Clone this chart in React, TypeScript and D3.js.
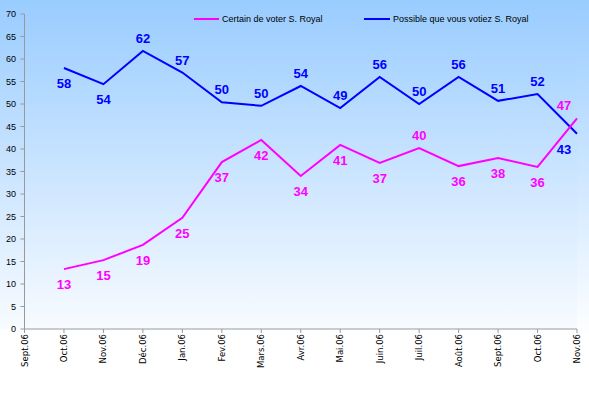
import React from 'react';
import * as d3 from 'd3';

const months = ['Sept.06', 'Oct.06', 'Nov.06', 'Déc.06', 'Jan.06', 'Fev.06', 'Mars.06', 'Avr.06', 'Mai.06', 'Juin.06', 'Juil.06', 'Août.06', 'Sept.06', 'Oct.06', 'Nov.06'];
// first month has no value
const certain = [null, 13.3, 15.3, 18.7, 24.7, 37.1, 42, 34, 40.9, 36.9, 40.2, 36.2, 38, 36, 46.8];
const possible = [null, 58, 54.4, 61.8, 57, 50.4, 49.6, 54, 49.1, 56, 50, 56, 50.7, 52.2, 43.4];
const yTicks = [0, 5, 10, 15, 20, 25, 30, 35, 40, 45, 50, 55, 60, 65, 70];

const W = 589;
const H = 397;
const margin = { top: 14, right: 12, bottom: 68, left: 24.5 };

const App = () => {
  const x = d3.scaleLinear()
    .domain([0, months.length - 1])
    .range([margin.left, W - margin.right]);
  const y = d3.scaleLinear()
    .domain([0, 70])
    .range([H - margin.bottom, margin.top]);

  const line = d3.line<number | null>()
    .defined(d => d != null)
    .x((d, i) => x(i))
    .y(d => y(d as number));

  // label placement: which points get their label under the line
  const blueBelow = new Set([1, 2, 14]);
  const pinkAbove = new Set([10, 14]);

  const labelPos = (i: number, v: number, below: boolean) => {
    const dx = i === months.length - 1 ? -13 : 0;
    const dy = below ? 20 : -8;
    return { x: x(i) + dx, y: y(v) + dy };
  };

  const font = 'Liberation Sans, Arial, sans-serif';
  const y0 = y(0);

  return (
    <svg width={W} height={H} style={{ position: 'absolute', left: 0, top: 0 }}>
      <defs>
        <linearGradient id="bg" x1="0" y1="0" x2="0" y2="1">
          <stop offset="0" stopColor="#99ccff" />
          <stop offset="0.85" stopColor="#ffffff" />
          <stop offset="1" stopColor="#ffffff" />
        </linearGradient>
        <linearGradient id="plotbg" x1="0" y1="0" x2="0" y2="1">
          <stop offset="0" stopColor="#99ccff" />
          <stop offset="1" stopColor="#f8fbff" />
        </linearGradient>
      </defs>
      <rect x={0} y={0} width={W} height={H} fill="url(#bg)" />
      <rect x={0} y={0} width={x(months.length - 1)} height={y0} fill="url(#plotbg)" />

      {/* y axis */}
      <line x1={x(0)} x2={x(0)} y1={y(70)} y2={y0} stroke="#999" strokeWidth={1} />
      {yTicks.map(t => (
        <g key={t}>
          <line x1={x(0) - 4} x2={x(0)} y1={y(t)} y2={y(t)} stroke="#999" />
          <text x={16} y={y(t) + 3} textAnchor="end" fontSize={9} fontFamily={font} fill="#000">{t}</text>
        </g>
      ))}

      {/* x axis */}
      <line x1={x(0)} x2={x(months.length - 1)} y1={y0} y2={y0} stroke="#999" />
      {months.map((m, i) => (
        <g key={i}>
          <line x1={x(i)} x2={x(i)} y1={y0} y2={y0 + 4} stroke="#999" />
          <text
            transform={`translate(${x(i) + 3},${y0 + 5}) rotate(-90)`}
            textAnchor="end"
            fontSize={8.5}
            fontFamily="DejaVu Sans, Verdana, sans-serif"
            fill="#000"
          >{m}</text>
        </g>
      ))}

      {/* series */}
      <path d={line(possible) || ''} fill="none" stroke="#0000ff" strokeWidth={2} />
      <path d={line(certain) || ''} fill="none" stroke="#ff00ff" strokeWidth={2} />

      {possible.map((v, i) => {
        if (v == null) return null;
        const p = labelPos(i, v, blueBelow.has(i));
        return (
          <text key={'b' + i} x={p.x} y={p.y} textAnchor="middle" fontSize={13} fontWeight="bold" fontFamily={font} fill="#0000ff">
            {Math.round(v)}
          </text>
        );
      })}
      {certain.map((v, i) => {
        if (v == null) return null;
        const p = labelPos(i, v, !pinkAbove.has(i));
        return (
          <text key={'p' + i} x={p.x} y={p.y} textAnchor="middle" fontSize={13} fontWeight="bold" fontFamily={font} fill="#ff00ff">
            {Math.round(v)}
          </text>
        );
      })}

      {/* legend */}
      <line x1={194} x2={219} y1={19} y2={19} stroke="#ff00ff" strokeWidth={2} />
      <text x={222} y={22} fontSize={9} fontFamily={font} fill="#000">Certain de voter S. Royal</text>
      <line x1={364} x2={390} y1={19} y2={19} stroke="#0000ff" strokeWidth={2} />
      <text x={393} y={22} fontSize={9} fontFamily={font} fill="#000">Possible que vous votiez S. Royal</text>
    </svg>
  );
};

export default App;
